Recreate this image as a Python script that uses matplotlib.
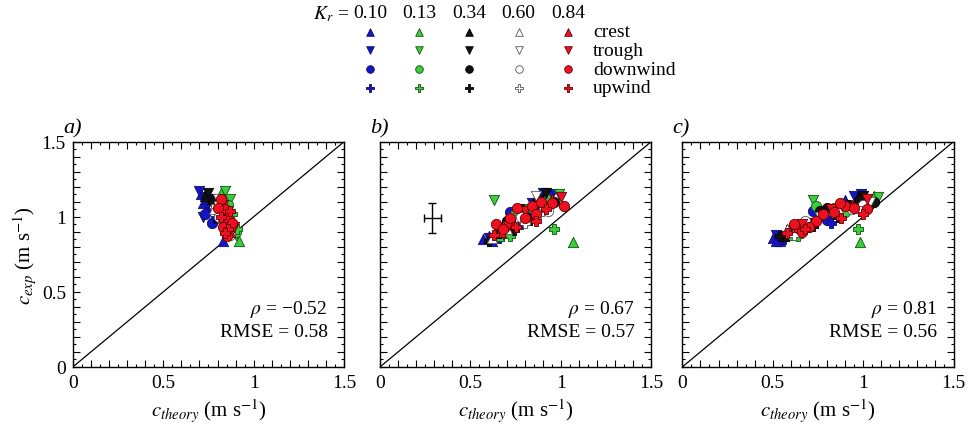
import matplotlib.pyplot as plt
from matplotlib.ticker import MultipleLocator, FuncFormatter

plt.rcParams['font.family'] = ['Liberation Serif', 'DejaVu Serif']
plt.rcParams['mathtext.fontset'] = 'stix'

# relative depth values and their colours
kr_labels = ['0.10', '0.13', '0.34', '0.60', '0.84']
kr_face = ['#1414c8', '#3ccc3c', '#111111', '#ffffff', '#ee1020']
kr_edge = ['#101060', '#105010', '#000000', '#555555', '#600000']

kinds = ['crest', 'trough', 'downwind', 'upwind']
kind_marker = ['^', 'v', 'o', 'P']

# (kr index, c_theory, c_exp)
a_crest = [(0, 0.71, 1.15), (0, 0.74, 1.06), (0, 0.83, 0.84), (1, 0.82, 1.16), (1, 0.88, 0.95),
           (1, 0.92, 0.84), (2, 0.73, 1.14), (2, 0.80, 1.00), (3, 0.78, 1.05), (3, 0.85, 0.92),
           (4, 0.84, 1.02), (4, 0.87, 0.90), (0, 0.72, 1.09), (2, 0.77, 1.12)]
a_trough = [(0, 0.70, 1.17), (0, 0.76, 1.12), (0, 0.72, 1.00), (1, 0.84, 1.17), (1, 0.90, 0.88),
            (2, 0.75, 1.16), (2, 0.82, 1.05), (3, 0.80, 1.12), (3, 0.86, 0.96), (4, 0.83, 1.08),
            (4, 0.89, 0.93), (1, 0.87, 1.12), (0, 0.73, 1.13)]
a_down = [(0, 0.73, 1.02), (0, 0.77, 0.96), (1, 0.86, 1.08), (1, 0.90, 0.90), (2, 0.78, 1.10),
          (2, 0.84, 0.94), (3, 0.81, 1.00), (3, 0.87, 0.88), (4, 0.82, 1.12), (4, 0.84, 1.05),
          (4, 0.86, 0.99), (4, 0.83, 0.93), (4, 0.88, 0.96), (4, 0.85, 0.87), (4, 0.80, 1.06)]
a_up = [(0, 0.74, 1.10), (0, 0.79, 0.99), (1, 0.88, 1.02), (1, 0.91, 0.92), (2, 0.81, 1.08),
        (2, 0.86, 0.91), (3, 0.79, 1.07), (3, 0.83, 0.97), (4, 0.82, 1.00), (4, 0.87, 1.04),
        (4, 0.86, 0.92), (4, 0.84, 0.89)]

b_crest = [(0, 0.57, 0.85), (0, 0.62, 0.84), (0, 0.88, 1.14), (1, 0.66, 0.87), (1, 1.07, 0.83),
           (1, 0.93, 1.13), (2, 0.64, 0.89), (2, 0.85, 1.10), (3, 0.70, 0.92), (3, 0.90, 1.08),
           (4, 0.74, 0.95), (4, 0.95, 1.12), (0, 0.60, 0.87), (2, 0.80, 1.03), (3, 0.62, 0.86),
           (4, 0.67, 0.90)]
b_trough = [(0, 0.60, 0.86), (0, 0.90, 1.16), (0, 0.95, 1.15), (1, 0.63, 1.11), (1, 0.99, 1.15),
            (1, 0.82, 1.05), (2, 0.92, 1.16), (2, 0.68, 0.90), (3, 0.86, 1.14), (3, 0.76, 0.98),
            (4, 0.80, 1.04), (4, 1.00, 1.13), (2, 0.88, 1.12), (0, 0.84, 1.09), (4, 0.71, 0.94)]
b_down = [(0, 0.72, 1.03), (0, 0.82, 1.00), (1, 0.74, 1.01), (1, 0.88, 1.06), (2, 0.70, 0.97),
          (2, 0.86, 1.08), (2, 0.96, 1.10), (3, 0.78, 1.00), (3, 0.93, 1.04), (4, 0.64, 0.95),
          (4, 0.68, 0.92), (4, 0.76, 1.06), (4, 0.80, 0.99), (4, 0.84, 1.07), (4, 0.89, 1.10),
          (4, 0.95, 1.09), (4, 1.02, 1.07), (2, 0.78, 1.05), (2, 0.66, 0.93), (4, 0.72, 0.99),
          (4, 0.86, 1.02), (1, 0.80, 0.97)]
b_up = [(0, 0.66, 0.86), (0, 0.78, 0.95), (1, 0.96, 0.92), (1, 0.72, 0.87), (2, 0.60, 0.84),
        (2, 0.83, 0.98), (3, 0.69, 0.94), (3, 0.88, 1.02), (4, 0.75, 0.93), (4, 0.86, 0.97),
        (4, 0.92, 1.05), (2, 0.74, 0.91), (4, 0.63, 0.88), (3, 0.80, 0.96)]

c_crest = [(0, 0.50, 0.86), (0, 0.54, 0.84), (0, 0.90, 1.11), (1, 0.60, 0.88), (1, 0.98, 0.83),
           (1, 1.06, 1.14), (2, 0.62, 0.90), (2, 0.97, 1.13), (3, 0.58, 0.92), (3, 0.66, 0.95),
           (4, 0.64, 0.93), (4, 0.94, 1.08), (0, 0.52, 0.84), (2, 0.56, 0.87), (3, 0.86, 1.06),
           (2, 1.02, 1.12)]
c_trough = [(0, 0.52, 0.88), (0, 0.95, 1.14), (1, 0.72, 1.11), (1, 1.08, 1.13), (2, 1.00, 1.14),
            (2, 0.70, 0.96), (3, 0.76, 1.00), (3, 1.04, 1.10), (4, 0.82, 1.05), (4, 1.02, 1.12),
            (0, 0.99, 1.15), (2, 0.60, 0.91), (4, 0.66, 0.95)]
c_down = [(0, 0.72, 1.04), (0, 0.80, 0.98), (1, 0.74, 1.07), (1, 0.84, 1.06), (2, 0.80, 1.06),
          (2, 0.92, 1.08), (2, 1.06, 1.10), (3, 0.68, 0.97), (3, 1.00, 1.08), (4, 0.62, 0.95),
          (4, 0.66, 0.90), (4, 0.74, 0.97), (4, 0.78, 1.02), (4, 0.84, 1.03), (4, 0.90, 1.07),
          (4, 0.95, 1.06), (4, 1.02, 1.05), (2, 0.76, 1.04), (2, 0.98, 1.11), (4, 0.70, 0.93),
          (4, 0.87, 1.09), (1, 0.90, 1.03), (3, 0.94, 1.05)]
c_up = [(0, 0.56, 0.85), (0, 0.82, 0.96), (1, 0.97, 0.92), (1, 0.64, 0.87), (2, 0.54, 0.87),
        (2, 0.86, 1.00), (3, 0.70, 0.93), (3, 0.98, 1.04), (4, 0.68, 0.92), (4, 0.88, 0.99),
        (4, 1.00, 1.02), (2, 0.72, 0.94), (4, 0.58, 0.89), (3, 0.62, 0.88)]

panels = [
    ('a)', [a_crest, a_trough, a_down, a_up], '\u22120.52', '0.58'),
    ('b)', [b_crest, b_trough, b_down, b_up], '0.67', '0.57'),
    ('c)', [c_crest, c_trough, c_down, c_up], '0.81', '0.56'),
]

# measurement uncertainty shown in panel b
err_x, err_y = 0.29, 0.99
err_dx, err_dy = 0.045, 0.10

fig = plt.figure(figsize=(9.72, 4.39), dpi=100)
lefts = [0.075, 0.391, 0.702]


def tick_label(v, pos):
    if abs(v * 2 - round(v * 2)) < 1e-6:
        return '%g' % v
    return ''


for i, (tag, groups, rho, rmse) in enumerate(panels):
    ax = fig.add_axes([lefts[i], 0.162, 0.279, 0.513])
    ax.plot([0, 1.5], [0, 1.5], color='k', lw=0.9, zorder=1)
    for k, pts in enumerate(groups):
        for j in range(len(kr_labels)):
            sel = [p for p in pts if p[0] == j]
            if not sel:
                continue
            ax.scatter([p[1] for p in sel], [p[2] for p in sel], marker=kind_marker[k],
                       s=55, facecolor=kr_face[j], edgecolor=kr_edge[j], linewidth=0.6,
                       zorder=2 + j * 0.1)
    if i == 1:
        ax.errorbar(err_x, err_y, xerr=err_dx, yerr=err_dy, color='k', lw=1.0,
                    capsize=3, capthick=1.0)
    ax.set_xlim(0, 1.5)
    ax.set_ylim(0, 1.5)
    for axis in (ax.xaxis, ax.yaxis):
        axis.set_major_locator(MultipleLocator(0.1))
        axis.set_minor_locator(MultipleLocator(0.05))
        axis.set_major_formatter(FuncFormatter(tick_label))
    ax.tick_params(which='both', direction='in', top=True, right=True, labelsize=14,
                   width=0.8, pad=5)
    ax.tick_params(which='major', length=5)
    ax.tick_params(which='minor', length=2.5)
    if i > 0:
        ax.tick_params(labelleft=False)
    else:
        ax.set_ylabel(r'$c_{exp}$ (m s$^{-1}$)', fontsize=15, labelpad=2)
    ax.set_xlabel(r'$c_{theory}$ (m s$^{-1}$)', fontsize=15, labelpad=4)
    for sp in ax.spines.values():
        sp.set_linewidth(1.0)
    ax.text(-0.037, 1.02, tag, transform=ax.transAxes, fontsize=16, style='italic',
            ha='left', va='bottom')
    ax.text(0.94, 0.258, r'$\rho$ = ' + rho, transform=ax.transAxes, fontsize=14,
            ha='right', va='center')
    ax.text(0.94, 0.156, 'RMSE = ' + rmse, transform=ax.transAxes, fontsize=14,
            ha='right', va='center')

# symbol key at the top
key = fig.add_axes([0.355, 0.776, 0.255, 0.214])
key.set_xlim(-0.5, 4.5)
key.set_ylim(3.5, -1.5)
key.axis('off')
key.text(-0.42, -1, r'$K_r$ =', fontsize=14, ha='right', va='center')
for j, lab in enumerate(kr_labels):
    key.text(j, -1, lab, fontsize=14, ha='center', va='center')
    for k in range(len(kinds)):
        key.scatter([j], [k], marker=kind_marker[k], s=30, facecolor=kr_face[j],
                    edgecolor=kr_edge[j], linewidth=0.6, clip_on=False)
for k, name in enumerate(kinds):
    key.text(4.5, k, name, fontsize=14, ha='left', va='center')

fig.savefig('out.png', dpi=100)
